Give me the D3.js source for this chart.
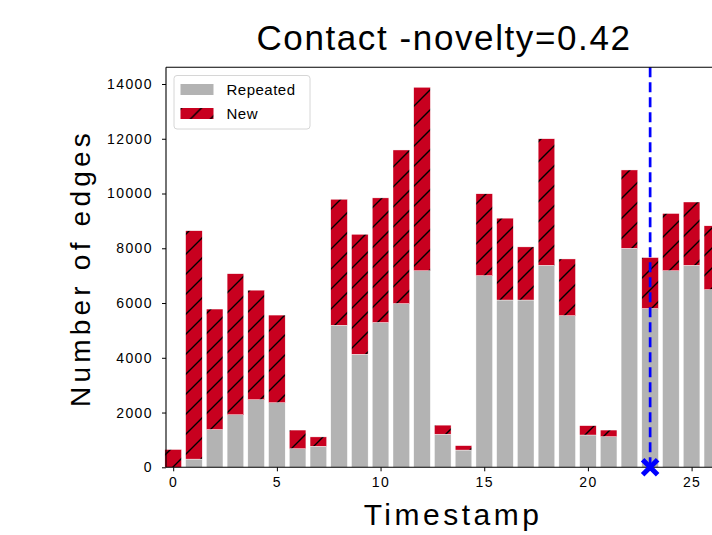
<!DOCTYPE html>
<html>
<head>
<meta charset="utf-8">
<script src="https://cdn.jsdelivr.net/npm/d3@7"></script>
<style>
  body { margin: 0; background: #fff; }
  svg { display: block; }
  text { font-family: "Liberation Sans", Arial, sans-serif; }
</style>
</head>
<body>
<div id="container"></div>
<script>
// values
const timestamps = [0, 1, 2, 3, 4, 5, 6, 7, 8, 9, 10, 11, 12, 13, 14, 15, 16, 17, 18, 19, 20, 21, 22, 23, 24, 25, 26];
const repeated = [0, 300, 1380, 1920, 2470, 2360, 680, 770, 5190, 4130, 5290, 5980, 7180, 1210, 630, 7000, 6110, 6110, 7380, 5540, 1180, 1120, 8000, 5800, 7180, 7380, 6490];
const newEdges = [650, 8340, 4400, 5150, 4000, 3200, 680, 340, 4600, 4380, 4550, 5610, 6700, 330, 160, 2990, 2990, 1940, 4620, 2070, 340, 240, 2860, 1860, 2090, 2310, 2330];
const xTicks = [0, 5, 10, 15, 20, 25];
const yTicks = [0, 2000, 4000, 6000, 8000, 10000, 12000, 14000];
const seriesNames = ["Repeated", "New"];
const markedTimestamp = 23;

const w = 712, h = 535;
const plotLeft = 166, plotTop = 67.3, plotBottom = 467.3;

const svg = d3.select("#container").append("svg")
  .attr("width", w)
  .attr("height", h);

// hatch for the "new" bars
const defs = svg.append("defs");
const hatch = defs.append("pattern")
  .attr("id", "hatch")
  .attr("patternUnits", "userSpaceOnUse")
  .attr("width", 20)
  .attr("height", 20);
hatch.append("rect").attr("width", 20).attr("height", 20).attr("fill", "#c8001f");
hatch.append("path")
  .attr("d", "M0,20 L20,0 M-5,5 L5,-5 M15,25 L25,15")
  .attr("stroke", "#000")
  .attr("stroke-width", 1.4);

const xScale = d3.scaleLinear()
  .domain([0, 25])
  .range([173.2, 691.6]);
const yScale = d3.scaleLinear()
  .domain([0, 14000])
  .range([plotBottom, 84]);

const table = timestamps.map((t, i) => ({ t: t, Repeated: repeated[i], New: newEdges[i] }));
const stacked = d3.stack().keys(seriesNames)(table);
const fills = { Repeated: "#b3b3b3", New: "url(#hatch)" };

const bw = 0.8;
svg.append("g").selectAll("g")
  .data(stacked)
  .enter()
  .append("g")
  .attr("fill", d => fills[d.key])
  .selectAll("rect")
  .data(d => d)
  .enter()
  .append("rect")
  .attr("x", d => xScale(d.data.t - bw / 2))
  .attr("width", xScale(bw) - xScale(0))
  .attr("y", d => yScale(d[1]))
  .attr("height", d => yScale(d[0]) - yScale(d[1]))
  .attr("stroke", "#fff")
  .attr("stroke-width", 0.4);

// marked timestamp
svg.append("line")
  .attr("x1", xScale(markedTimestamp)).attr("x2", xScale(markedTimestamp))
  .attr("y1", plotTop).attr("y2", plotBottom)
  .attr("stroke", "#0000ff")
  .attr("stroke-width", 2.7)
  .attr("stroke-dasharray", "10,5");

// axes
const xAxis = d3.axisBottom(xScale).tickValues(xTicks).tickSize(4).tickPadding(6);
const yAxis = d3.axisLeft(yScale).tickValues(yTicks).tickFormat(d3.format("d")).tickSize(4).tickPadding(9);

const gx = svg.append("g")
  .attr("transform", "translate(0," + plotBottom + ")")
  .call(xAxis);
gx.select(".domain").remove();
const gy = svg.append("g")
  .attr("transform", "translate(" + plotLeft + ",0)")
  .call(yAxis);
gy.select(".domain").remove();
svg.selectAll(".tick text")
  .attr("font-size", 14)
  .attr("font-family", "Liberation Sans, Arial, sans-serif")
  .style("letter-spacing", "1.4px")
  .attr("fill", "#000");
svg.selectAll(".tick line").attr("stroke", "#000").attr("stroke-width", 1);

// spines
svg.append("line").attr("x1", plotLeft).attr("x2", w).attr("y1", plotBottom).attr("y2", plotBottom)
  .attr("stroke", "#000").attr("stroke-width", 1.1);
svg.append("line").attr("x1", plotLeft).attr("x2", w).attr("y1", plotTop).attr("y2", plotTop)
  .attr("stroke", "#000").attr("stroke-width", 1.1);
svg.append("line").attr("x1", plotLeft).attr("x2", plotLeft).attr("y1", plotTop).attr("y2", plotBottom)
  .attr("stroke", "#000").attr("stroke-width", 1.1);

// x marker on the axis
const mx = xScale(markedTimestamp), my = plotBottom, ms = 7.5;
svg.append("path")
  .attr("d", `M${mx - ms},${my - ms}L${mx + ms},${my + ms}M${mx - ms},${my + ms}L${mx + ms},${my - ms}`)
  .attr("stroke", "#0000ff")
  .attr("stroke-width", 5)
  .attr("fill", "none");

// legend
const legend = svg.append("g").attr("transform", "translate(174,75.5)");
legend.append("rect")
  .attr("width", 136).attr("height", 53.5)
  .attr("rx", 3)
  .attr("fill", "#fff")
  .attr("stroke", "#d6d6d6")
  .attr("stroke-width", 1);
seriesNames.forEach((name, i) => {
  legend.append("rect")
    .attr("x", 6.5).attr("y", 8.5 + i * 24)
    .attr("width", 33).attr("height", 11)
    .attr("fill", fills[name]);
  legend.append("text")
    .attr("x", 52.5).attr("y", 19 + i * 24)
    .attr("font-size", 15)
    .style("letter-spacing", "0.5px")
    .text(name);
});

// labels
svg.append("text")
  .attr("x", 453).attr("y", 525)
  .attr("text-anchor", "middle")
  .attr("font-size", 30)
  .style("letter-spacing", "3.5px")
  .text("Timestamp");

svg.append("text")
  .attr("transform", "translate(90,268) rotate(-90)")
  .attr("text-anchor", "middle")
  .attr("font-size", 28)
  .style("letter-spacing", "4.2px")
  .text("Number of edges");

svg.append("text")
  .attr("x", 444).attr("y", 50)
  .attr("text-anchor", "middle")
  .attr("font-family", "Open Sans, sans-serif")
  .attr("font-size", 35)
  .style("letter-spacing", "1.6px")
  .text("Contact -novelty=0.42");
</script>
</body>
</html>
